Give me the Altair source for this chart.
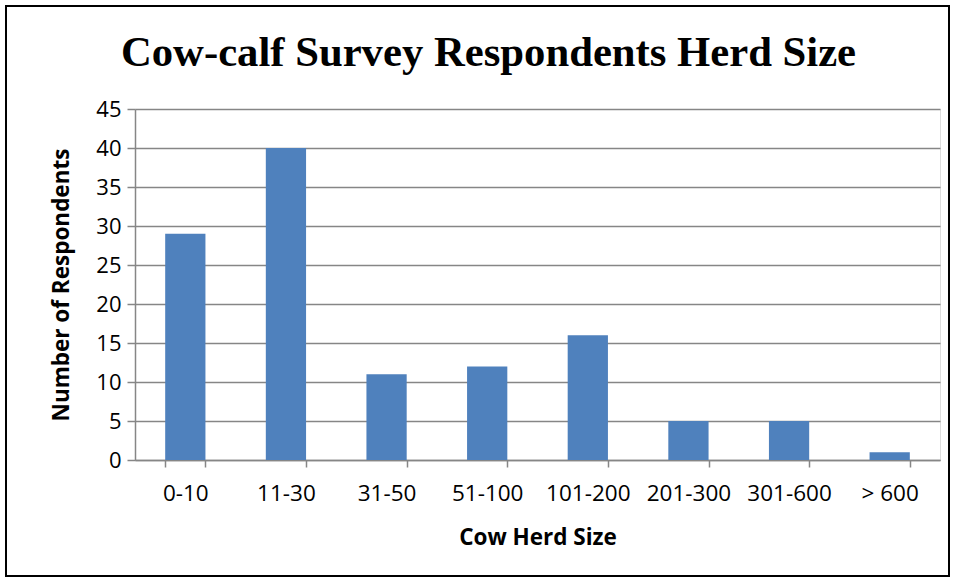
import altair as alt
import pandas as pd

categories = ["0-10", "11-30", "31-50", "51-100", "101-200", "201-300", "301-600", "> 600"]
respondents = [29, 40, 11, 12, 16, 5, 5, 1]

df = pd.DataFrame({"herd": categories, "count": respondents})

LABEL_FONT = "Open Sans"

bars = alt.Chart(df).mark_bar(color="#4F81BD").encode(
    x=alt.X("herd:N", sort=categories,
            scale=alt.Scale(paddingInner=0.6, paddingOuter=0.3),
            axis=alt.Axis(title="Cow Herd Size", labelAngle=0, tickBand="extent",
                          tickSize=7, labelPadding=15, titlePadding=22,
                          domainColor="#868686", tickColor="#868686",
                          domainWidth=1.5, tickWidth=1.5,
                          labelFont=LABEL_FONT, labelFontSize=22.5, labelColor="black",
                          titleFont=LABEL_FONT, titleFontSize=22.5, titleFontWeight="bold",
                          titleColor="black")),
    y=alt.Y("count:Q", scale=alt.Scale(domain=[0, 45]),
            axis=alt.Axis(title="Number of Respondents", values=list(range(0, 50, 5)),
                          tickSize=8, labelPadding=6, titlePadding=22,
                          grid=True, gridColor="#868686", gridWidth=1.5,
                          domainColor="#868686", tickColor="#868686",
                          domainWidth=1.5, tickWidth=1.5,
                          labelFont=LABEL_FONT, labelFontSize=22, labelColor="black",
                          titleFont=LABEL_FONT, titleFontSize=22.5, titleFontWeight="bold",
                          titleColor="black")),
)

border = alt.Chart(df).mark_rect(fill=None, stroke="black", strokeWidth=2).encode(
    x=alt.value(-129), x2=alt.value(814), y=alt.value(-103), y2=alt.value(116 + 351)
)

chart = alt.layer(bars, border).properties(
    width=805, height=351,
    title=alt.Title("Cow-calf Survey Respondents Herd Size", font="Liberation Serif",
                    fontSize=42.7, fontWeight="bold", color="black", anchor="middle",
                    dx=-49, dy=88, offset=18),
    autosize=alt.AutoSizeParams(type="none"),
    padding={"left": 135, "top": 109, "right": 16, "bottom": 122},
).configure_view(stroke=None).configure(background="white")

chart.save("out.html", embed_options={"renderer": "svg", "actions": False})
